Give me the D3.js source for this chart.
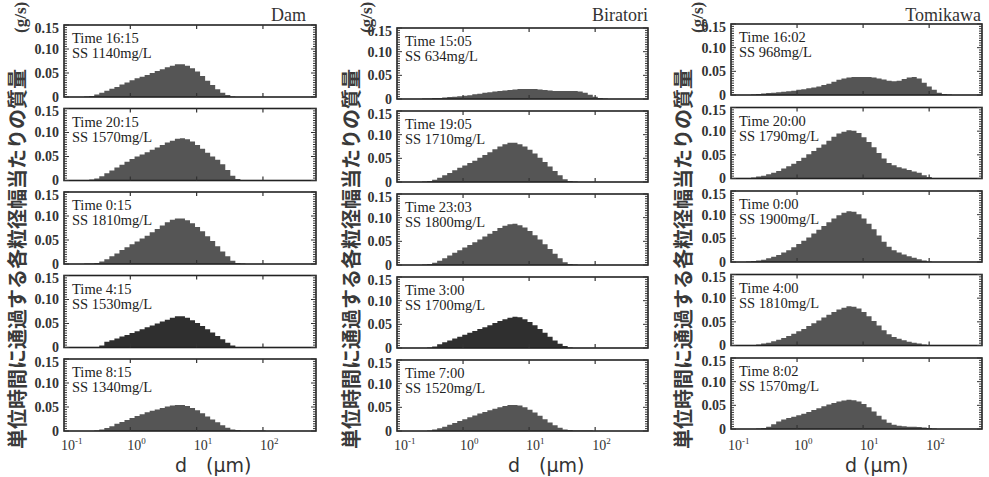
<!DOCTYPE html>
<html><head><meta charset="utf-8">
<script src="https://cdn.jsdelivr.net/npm/d3@7"></script>
<style>body{margin:0;background:#fff}svg{display:block}</style>
</head><body>
<svg id="c" width="989" height="477"></svg>
<script>
// ---- data ----
// particle diameter bin edges (µm), log-spaced instrument grid
const binEdges = [0.1,0.1191,0.1419,0.1690,0.2014,0.2399,0.2858,0.3404,0.4055,0.4831,
  0.5754,0.6855,0.8166,0.9727,1.159,1.380,1.644,1.959,2.333,2.780,
  3.311,3.945,4.699,5.598,6.668,7.943,9.462,11.27,13.43,16.00,
  19.05,22.70,27.04,32.21,38.37,45.71,54.45,64.86,77.27,92.04,
  109.6,130.6,155.6,185.4,220.8,263.0,313.3,373.3,444.6,529.7,631.0];

const sites = ["Dam", "Biratori", "Tomikawa"];
const timesDam = ["16:15", "20:15", "0:15", "4:15", "8:15"];
const timesBiratori = ["15:05", "19:05", "23:03", "3:00", "7:00"];
const timesTomikawa = ["16:02", "20:00", "0:00", "4:00", "8:02"];
const ssDam = [1140, 1570, 1810, 1530, 1340];
const ssBiratori = [634, 1710, 1800, 1700, 1520];
const ssTomikawa = [968, 1790, 1900, 1810, 1570];

const yTicks = [0, 0.05, 0.10, 0.15];
const yTickLabels = ["0", "0.05", "0.10", "0.15"];
const xTicks = [0.1, 1, 10, 100];
const xTickExps = ["-1", "0", "1", "2"];

// mass flux per size bin (g/s)
const dam1615 = [0,0,0,0,0.001,0.002,0.005,0.009,0.013,0.017,
  0.021,0.026,0.030,0.035,0.039,0.042,0.046,0.050,0.054,0.058,
  0.062,0.065,0.068,0.068,0.065,0.060,0.053,0.044,0.034,0.025,
  0.016,0.009,0.004,0.001,0,0,0,0,0,0, 0,0,0,0,0,0,0,0,0,0];
const dam2015 = [0,0,0,0,0.001,0.002,0.004,0.009,0.015,0.021,
  0.027,0.033,0.039,0.045,0.050,0.054,0.059,0.064,0.069,0.074,
  0.079,0.083,0.087,0.088,0.086,0.081,0.074,0.066,0.058,0.050,
  0.043,0.034,0.022,0.010,0.003,0.001,0,0,0,0, 0,0,0,0,0,0,0,0,0,0];
const dam0015 = [0,0,0,0,0.001,0.001,0.002,0.005,0.010,0.016,
  0.022,0.029,0.035,0.041,0.047,0.053,0.059,0.066,0.073,0.080,
  0.087,0.092,0.095,0.095,0.091,0.085,0.077,0.068,0.058,0.048,
  0.037,0.026,0.016,0.007,0.002,0.001,0,0,0,0, 0,0,0,0,0,0,0,0,0,0];
const dam0415 = [0,0,0,0,0,0,0,0.004,0.012,0.015,
  0.019,0.023,0.026,0.030,0.034,0.038,0.042,0.046,0.050,0.054,
  0.058,0.062,0.065,0.065,0.062,0.057,0.051,0.045,0.038,0.031,
  0.024,0.017,0.010,0.004,0.001,0,0,0,0,0, 0,0,0,0,0,0,0,0,0,0];
const dam0815 = [0,0,0,0,0,0,0.001,0.003,0.006,0.010,
  0.015,0.019,0.023,0.027,0.031,0.035,0.039,0.042,0.045,0.048,
  0.051,0.053,0.054,0.054,0.052,0.048,0.043,0.037,0.030,0.024,
  0.018,0.012,0.007,0.003,0.002,0.001,0.001,0.001,0.001,0.001, 0,0,0,0,0,0,0,0,0,0];

const bir1505 = [0,0,0,0,0,0.001,0.001,0.002,0.002,0.003,
  0.004,0.005,0.006,0.007,0.008,0.010,0.011,0.013,0.014,0.016,
  0.017,0.018,0.019,0.020,0.021,0.021,0.021,0.021,0.020,0.019,
  0.018,0.017,0.017,0.017,0.017,0.017,0.016,0.013,0.009,0.005,
  0.002,0.001,0,0,0,0,0,0,0,0];
const bir1905 = [0,0,0,0,0,0.001,0.002,0.005,0.009,0.014,
  0.019,0.025,0.030,0.035,0.040,0.045,0.051,0.057,0.063,0.069,
  0.075,0.080,0.083,0.083,0.080,0.075,0.068,0.060,0.051,0.042,
  0.033,0.023,0.014,0.006,0.002,0.001,0,0,0,0, 0,0,0,0,0,0,0,0,0,0];
const bir2303 = [0,0,0,0,0,0.001,0.002,0.005,0.009,0.014,
  0.020,0.026,0.031,0.037,0.042,0.048,0.054,0.060,0.066,0.072,
  0.078,0.083,0.086,0.087,0.084,0.079,0.072,0.063,0.054,0.044,
  0.034,0.024,0.014,0.006,0.002,0.001,0,0,0,0, 0,0,0,0,0,0,0,0,0,0];
const bir0300 = [0,0,0,0,0,0,0.001,0.003,0.008,0.012,
  0.016,0.020,0.024,0.028,0.032,0.036,0.040,0.044,0.048,0.053,
  0.057,0.061,0.064,0.066,0.065,0.061,0.055,0.048,0.040,0.032,
  0.024,0.016,0.009,0.004,0.001,0,0,0,0,0, 0,0,0,0,0,0,0,0,0,0];
const bir0700 = [0,0,0,0,0,0,0.001,0.003,0.006,0.009,
  0.013,0.017,0.021,0.025,0.029,0.033,0.037,0.040,0.044,0.047,
  0.050,0.053,0.055,0.055,0.054,0.050,0.045,0.039,0.032,0.025,
  0.018,0.012,0.007,0.003,0.002,0.001,0.001,0.001,0.001,0, 0,0,0,0,0,0,0,0,0,0];

const tom1602 = [0,0,0,0,0.001,0.002,0.003,0.004,0.005,0.006,
  0.007,0.008,0.009,0.011,0.012,0.014,0.016,0.018,0.021,0.024,
  0.028,0.032,0.035,0.037,0.038,0.038,0.038,0.038,0.037,0.035,
  0.033,0.030,0.029,0.030,0.034,0.037,0.038,0.035,0.026,0.018,
  0.011,0.005,0.002,0.001,0,0,0,0,0,0];
const tom2000 = [0,0,0,0.001,0.002,0.004,0.006,0.009,0.012,0.016,
  0.021,0.026,0.031,0.037,0.044,0.051,0.058,0.065,0.072,0.080,
  0.088,0.095,0.099,0.102,0.101,0.096,0.087,0.077,0.066,0.054,
  0.042,0.033,0.028,0.024,0.021,0.018,0.015,0.012,0.007,0.003,
  0.001,0,0,0,0,0,0,0,0,0];
const tom0000 = [0,0,0,0.001,0.002,0.003,0.005,0.008,0.011,0.015,
  0.020,0.025,0.031,0.038,0.045,0.052,0.060,0.068,0.076,0.084,
  0.092,0.099,0.104,0.107,0.106,0.101,0.092,0.081,0.069,0.056,
  0.043,0.032,0.025,0.020,0.016,0.012,0.009,0.006,0.003,0.001,
  0,0,0,0,0,0,0,0,0,0];
const tom0400 = [0,0,0,0.001,0.001,0.002,0.004,0.006,0.009,0.012,
  0.016,0.020,0.025,0.030,0.035,0.041,0.047,0.053,0.059,0.065,
  0.071,0.076,0.080,0.083,0.082,0.078,0.071,0.062,0.052,0.042,
  0.032,0.024,0.018,0.014,0.011,0.008,0.006,0.004,0.002,0.001,
  0,0,0,0,0,0,0,0,0,0];
const tom0802 = [0,0,0,0,0,0.001,0.002,0.005,0.010,0.016,
  0.020,0.023,0.026,0.029,0.032,0.036,0.040,0.044,0.048,0.052,
  0.055,0.058,0.060,0.062,0.061,0.058,0.053,0.046,0.037,0.028,
  0.020,0.013,0.009,0.007,0.006,0.005,0.005,0.004,0.003,0.002,
  0.001,0,0,0,0,0,0,0,0,0];

const seriesDam = [dam1615, dam2015, dam0015, dam0415, dam0815];
const seriesBiratori = [bir1505, bir1905, bir2303, bir0300, bir0700];
const seriesTomikawa = [tom1602, tom2000, tom0000, tom0400, tom0802];

// ---- layout ----
const svg = d3.select("#c");
const serif = "'Liberation Serif','DejaVu Serif',serif";
const jp = "'Noto Sans CJK JP','Noto Sans',sans-serif";
const sans = "'DejaVu Sans','Liberation Sans',sans-serif";

const cols = [
  {site: sites[0], times: timesDam, ss: ssDam, series: seriesDam, dark: [3],
   left: 64, width: 252, top: 25, h: 72, step: 83.5, jpX: 18, unitX: 20, titleX: 306, dX: 175, dLabel: "d\u2003(\u03bcm)"},
  {site: sites[1], times: timesBiratori, ss: ssBiratori, series: seriesBiratori, dark: [3],
   left: 397, width: 251, top: 28, h: 71, step: 83, jpX: 352, unitX: 366, titleX: 648, dX: 508, dLabel: "d\u2003(\u03bcm)"},
  {site: sites[2], times: timesTomikawa, ss: ssTomikawa, series: seriesTomikawa, dark: [],
   left: 731, width: 251, top: 24, h: 71, step: 83.5, jpX: 684, unitX: 697, titleX: 981, dX: 845, dLabel: "d (\u03bcm)"}
];

cols.forEach(col => {
  const x = d3.scaleLog().domain([binEdges[0], binEdges[binEdges.length - 1]])
    .range([col.left, col.left + col.width]);

  // column title
  svg.append("text").attr("x", col.titleX).attr("y", 21)
    .attr("text-anchor", "end").attr("font-family", serif).attr("font-size", 18)
    .attr("fill", "#333").text(col.site);

  col.series.forEach((vals, r) => {
    const top = col.top + r * col.step;
    const y = d3.scaleLinear().domain([0, 0.15]).range([top + col.h, top]);
    const g = svg.append("g");

    // histogram as step area
    const pts = vals.map((v, i) => [binEdges[i], v]);
    pts.push([binEdges[vals.length], vals[vals.length - 1]]);
    const area = d3.area().curve(d3.curveStepAfter)
      .x(d => x(d[0])).y0(y(0)).y1(d => y(d[1]));
    g.append("path").attr("d", area(pts))
      .attr("fill", col.dark.includes(r) ? "#2f2f2f" : "#555");

    // frame
    g.append("rect").attr("x", col.left).attr("y", top)
      .attr("width", col.width).attr("height", col.h)
      .attr("fill", "none").attr("stroke", "#222").attr("stroke-width", 1.6);

    // y ticks (minor every 0.005, major at labels) left & right
    const minor = d3.range(0, 0.1501, 0.005);
    minor.forEach(t => {
      const major = yTicks.some(m => Math.abs(m - t) < 1e-6);
      const len = major ? 5 : 3;
      const yy = y(t);
      g.append("line").attr("x1", col.left).attr("x2", col.left + len)
        .attr("y1", yy).attr("y2", yy).attr("stroke", "#333").attr("stroke-width", 1);
      g.append("line").attr("x1", col.left + col.width).attr("x2", col.left + col.width - len)
        .attr("y1", yy).attr("y2", yy).attr("stroke", "#333").attr("stroke-width", 1);
    });
    // x ticks top & bottom
    xTicks.forEach(t => {
      if (t <= binEdges[0]) return;
      const xx = x(t);
      g.append("line").attr("x1", xx).attr("x2", xx).attr("y1", top).attr("y2", top + 4)
        .attr("stroke", "#333").attr("stroke-width", 1.2);
      g.append("line").attr("x1", xx).attr("x2", xx).attr("y1", top + col.h).attr("y2", top + col.h - 4)
        .attr("stroke", "#333").attr("stroke-width", 1.2);
    });

    // y tick labels
    yTicks.forEach((t, k) => {
      g.append("text").attr("x", col.left - 5).attr("y", y(t) + (k === 3 ? 3 : 0))
        .attr("dy", "0.35em").attr("text-anchor", "end")
        .attr("font-family", serif).attr("font-weight", "bold").attr("font-size", 14)
        .attr("fill", "#333").text(yTickLabels[k]);
    });

    // annotations
    g.append("text").attr("x", col.left + 8).attr("y", top + 18)
      .attr("font-family", serif).attr("font-size", 14.5).attr("fill", "#222")
      .text("Time " + col.times[r]);
    g.append("text").attr("x", col.left + 8).attr("y", top + 33)
      .attr("font-family", serif).attr("font-size", 14.5).attr("fill", "#222")
      .text("SS " + col.ss[r] + "mg/L");

    // x tick labels on last row
    if (r === col.series.length - 1) {
      xTicks.forEach((t, k) => {
        const tx = g.append("text").attr("x", x(t) - 3).attr("y", 450)
          .attr("text-anchor", "start").attr("font-family", serif)
          .attr("font-size", 14).attr("fill", "#333");
        tx.append("tspan").text("10");
        tx.append("tspan").attr("dy", -6).attr("font-size", 9).text(xTickExps[k]);
      });
    }
  });

  // x axis title
  svg.append("text").attr("x", col.dX).attr("y", 472)
    .attr("font-family", sans).attr("font-size", 19).attr("fill", "#333")
    .text(col.dLabel);

  // y axis title (rotated)
  svg.append("text").attr("transform", `translate(${col.jpX},449) rotate(-90)`)
    .attr("dy", "0.35em").attr("text-anchor", "start")
    .attr("font-family", jp).attr("font-weight", "bold").attr("font-size", 20)
    .attr("fill", "#3a3a3a").text("単位時間に通過する各粒径幅当たりの質量");
  svg.append("text").attr("transform", `translate(${col.unitX},33) rotate(-90)`)
    .attr("dy", "0.35em").attr("text-anchor", "start")
    .attr("font-family", serif).attr("font-weight", "bold").attr("font-size", 17)
    .attr("fill", "#3a3a3a").text("(g/s)");
});
</script></body></html>
